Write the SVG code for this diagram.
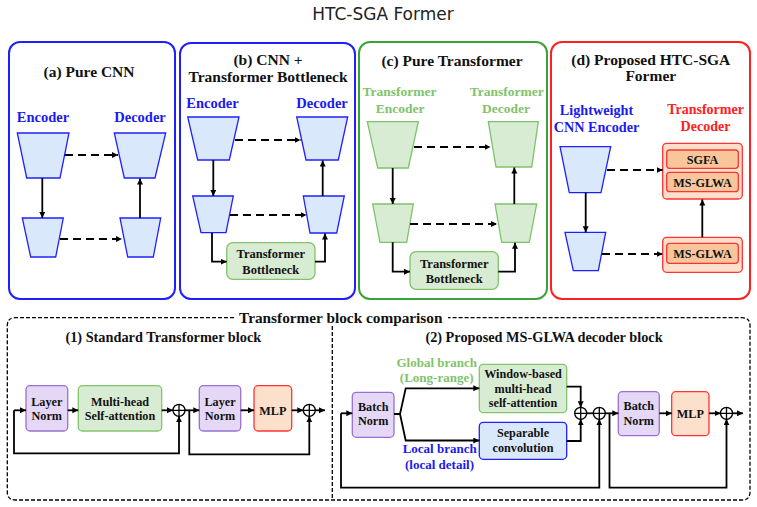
<svg xmlns="http://www.w3.org/2000/svg" width="757" height="507" viewBox="0 0 757 507">
<defs>
<marker id="ah" markerUnits="userSpaceOnUse" markerWidth="7" markerHeight="7" refX="6" refY="3" orient="auto">
<path d="M0,0 L6,3 L0,6 z" fill="#000"/>
</marker>
<style>
.t{font-family:"Liberation Serif","Times New Roman",serif;font-weight:bold;text-anchor:middle;fill:#111}
.pt{font-size:15.5px}
.lb{font-size:14.5px}
.bx{font-size:12.2px}
.blue{fill:#1a1aee}
.green{fill:#7fc36b}
.red{fill:#ff2020}
.panel{fill:#fff;stroke-width:2}
.tb{fill:#dae8fc;stroke:#2020ff;stroke-width:1.3}
.tg{fill:#d8ecd3;stroke:#7cc46a;stroke-width:1.3}
.gbox{fill:#d8ecd3;stroke:#82c46c;stroke-width:1.3}
.bbox{fill:#dae8fc;stroke:#2020ff;stroke-width:1.3}
.pbox{fill:#e4d8f6;stroke:#9b6fd1;stroke-width:1.3}
.obox{fill:#fde0cc;stroke:#ff3333;stroke-width:1.3}
.oin{fill:#f9c69c;stroke:#ff3333;stroke-width:1.3}
.c{fill:none;stroke:#000;stroke-width:1.8}
.ca{fill:none;stroke:#000;stroke-width:1.8;marker-end:url(#ah)}
.d{fill:none;stroke:#000;stroke-width:2;stroke-dasharray:8,5;marker-end:url(#ah)}
.op{fill:#fff;stroke:#000;stroke-width:1.3}
</style>
</defs>
<rect width="757" height="507" fill="#fff"/>
<text x="383" y="20" font-family="DejaVu Sans, sans-serif" font-size="17" text-anchor="middle" fill="#222">HTC-SGA Former</text>

<g id="panel-a">
<rect class="panel" x="9" y="42" width="166" height="257" rx="11" stroke="#2020ff"/>
<text class="t pt" x="89" y="77">(a) Pure CNN</text>
<text class="t lb blue" x="43" y="122">Encoder</text>
<text class="t lb blue" x="140" y="122">Decoder</text>
<polygon class="tb" points="17.3,133 69,133 60,178 26.7,178"/>
<polygon class="tb" points="114.3,133 165.7,133 155,178 124.3,178"/>
<polygon class="tb" points="22.3,218 63.3,218 55.7,257 30.7,257"/>
<polygon class="tb" points="120,218 160.7,218 153.3,257 127.7,257"/>
</g>

<g id="panel-b">
<rect class="panel" x="180" y="43" width="175" height="256" rx="11" stroke="#2020ff"/>
<text class="t pt" x="268" y="65">(b) CNN +</text>
<text class="t pt" x="268" y="82">Transformer Bottleneck</text>
<text class="t lb blue" x="212.5" y="108">Encoder</text>
<text class="t lb blue" x="322" y="108">Decoder</text>
<polygon class="tb" points="187.7,117 239,117 229.3,160 197.7,160"/>
<polygon class="tb" points="296.7,117 347.7,117 338.3,160 306,160"/>
<polygon class="tb" points="192.7,196 233.3,196 226,232.7 201,232.7"/>
<polygon class="tb" points="303.3,196 344.3,196 336.7,233 310,233"/>
<g id="bottleneck-b">
<rect class="gbox" x="226.7" y="242.7" width="88.3" height="36.6" rx="6"/>
<text class="t" font-size="12.5" x="270.8" y="258">Transformer</text>
<text class="t" font-size="12.5" x="270.8" y="273.5">Bottleneck</text>
</g>
</g>

<g id="panel-c">
<rect class="panel" x="359" y="42" width="188" height="257" rx="11" stroke="#3aa23a"/>
<text class="t pt" x="452" y="66">(c) Pure Transformer</text>
<text class="t green" font-size="13.5" x="399.5" y="96">Transformer</text>
<text class="t green" font-size="13.5" x="400" y="112.5">Encoder</text>
<text class="t green" font-size="13.5" x="506.7" y="96">Transformer</text>
<text class="t green" font-size="13.5" x="506" y="112.5">Decoder</text>
<polygon class="tg" points="367.3,121.7 418.3,121.7 408.3,168 377.7,168"/>
<polygon class="tg" points="488.3,121.7 538.3,121.7 531.7,167 496,167"/>
<polygon class="tg" points="372.7,204 413.3,204 406.7,242.3 380,242.3"/>
<polygon class="tg" points="495,204 536.7,204 529.3,242.3 501.7,242.3"/>
<g id="bottleneck-c">
<rect class="gbox" x="410" y="251.7" width="88.3" height="37.6" rx="6"/>
<text class="t" font-size="12.5" x="454.2" y="267.5">Transformer</text>
<text class="t" font-size="12.5" x="454.2" y="283">Bottleneck</text>
</g>
</g>

<g id="panel-d">
<rect class="panel" x="551" y="42" width="199" height="257" rx="11" stroke="#ff2020"/>
<text class="t pt" x="650.8" y="65">(d) Proposed HTC-SGA</text>
<text class="t pt" x="650.8" y="81">Former</text>
<text class="t blue" font-size="14.2" x="596.5" y="115">Lightweight</text>
<text class="t blue" font-size="14.2" x="596.5" y="132">CNN Encoder</text>
<text class="t red" font-size="14" x="705.5" y="114">Transformer</text>
<text class="t red" font-size="14" x="705.5" y="131">Decoder</text>
<polygon class="tb" points="560,146.7 610.7,146.7 601,192.7 569.3,192.7"/>
<polygon class="tb" points="565,232.3 605.7,232.3 598.3,270.7 573.3,270.7"/>
<g id="decoder-top">
<rect class="obox" x="662.7" y="143.3" width="79.6" height="55.7" rx="4"/>
<rect class="oin" x="666.7" y="150" width="71.6" height="18.3" rx="3"/>
<text class="t bx" x="702.5" y="163.5">SGFA</text>
<rect class="oin" x="666.7" y="172.3" width="71.6" height="19.4" rx="3"/>
<text class="t bx" x="702.5" y="186.5">MS-GLWA</text>
</g>
<g id="decoder-bottom">
<rect class="obox" x="662.7" y="237.3" width="79.6" height="35" rx="4"/>
<rect class="oin" x="666.7" y="243.3" width="71.6" height="20" rx="3"/>
<text class="t bx" x="702.5" y="257.8">MS-GLWA</text>
</g>
</g>

<g id="comparison">
<path d="M234,317.7 H15.3 Q7.3,317.7 7.3,325.7 V492 Q7.3,500 15.3,500 H742 Q750,500 750,492 V325.7 Q750,317.7 742,317.7 H448" fill="none" stroke="#000" stroke-width="1.3" stroke-dasharray="4,2"/>
<path d="M332.3,326 V500" fill="none" stroke="#000" stroke-width="1.3" stroke-dasharray="4,2"/>
<text class="t" font-size="15.3" x="340.8" y="322.5">Transformer block comparison</text>
<text class="t" font-size="14.3" x="163.3" y="342.3">(1) Standard Transformer block</text>
<text class="t" font-size="14.3" x="544" y="342.3">(2) Proposed MS-GLWA decoder block</text>
</g>

<g id="ln1"><rect class="pbox" x="26" y="385.7" width="41.7" height="45.3" rx="4"/>
<text class="t bx" x="46.8" y="405.5">Layer</text><text class="t bx" x="46.8" y="419.5">Norm</text></g>
<g id="mhsa"><rect class="gbox" x="78.3" y="385.7" width="83.4" height="45.3" rx="4"/>
<text class="t bx" x="120" y="405.5">Multi-head</text><text class="t bx" x="120" y="419.5">Self-attention</text></g>
<g id="ln2"><rect class="pbox" x="199.3" y="385.7" width="41.4" height="45.3" rx="4"/>
<text class="t bx" x="220" y="405.5">Layer</text><text class="t bx" x="220" y="419.5">Norm</text></g>
<g id="mlp1"><rect class="obox" x="254" y="385.7" width="37.7" height="45.3" rx="4"/>
<text class="t bx" x="272.8" y="414.5">MLP</text></g>
<g id="add1"><circle class="op" cx="179" cy="410.3" r="6"/><path d="M173,410.3 H185 M179,404.3 V416.3" stroke="#000" stroke-width="1.3"/></g>
<g id="add2"><circle class="op" cx="309.3" cy="410.3" r="6"/><path d="M303.3,410.3 H315.3 M309.3,404.3 V416.3" stroke="#000" stroke-width="1.3"/></g>

<g id="bn1"><rect class="pbox" x="352.3" y="392.3" width="41.7" height="45" rx="4"/>
<text class="t bx" x="373.2" y="410.5">Batch</text><text class="t bx" x="373.2" y="425">Norm</text></g>
<g id="wmsa"><rect class="gbox" x="479.3" y="364.3" width="87.4" height="48.4" rx="4"/>
<text class="t bx" x="523" y="378">Window-based</text><text class="t bx" x="523" y="392.5">multi-head</text><text class="t bx" x="523" y="407">self-attention</text></g>
<g id="sepconv"><rect class="bbox" x="479.3" y="422.3" width="87.4" height="37" rx="4"/>
<text class="t bx" x="523" y="436.7">Separable</text><text class="t bx" x="523" y="451.7">convolution</text></g>
<g id="branch-labels">
<text class="t green" font-size="13" x="436.7" y="366.7">Global branch</text>
<text class="t green" font-size="13" x="436.7" y="382.3">(Long-range)</text>
<text class="t blue" font-size="13" x="439.7" y="453.3">Local branch</text>
<text class="t blue" font-size="13" x="439.5" y="469.3">(local detail)</text>
</g>
<g id="bn2"><rect class="pbox" x="618.3" y="391.7" width="41" height="44" rx="4"/>
<text class="t bx" x="638.8" y="410">Batch</text><text class="t bx" x="638.8" y="424.5">Norm</text></g>
<g id="mlp2"><rect class="obox" x="671.7" y="391.7" width="37.3" height="44" rx="4"/>
<text class="t bx" x="690.3" y="417.5">MLP</text></g>
<g id="addA"><circle class="op" cx="580.7" cy="413.3" r="6"/><path d="M574.7,413.3 H586.7 M580.7,407.3 V419.3" stroke="#000" stroke-width="1.3"/></g>
<g id="addB"><circle class="op" cx="599.3" cy="413.3" r="6"/><path d="M593.3,413.3 H605.3 M599.3,407.3 V419.3" stroke="#000" stroke-width="1.3"/></g>
<g id="addC"><circle class="op" cx="726.5" cy="413.3" r="6"/><path d="M720.5,413.3 H732.5 M726.5,407.3 V419.3" stroke="#000" stroke-width="1.3"/></g>

<g id="connectors">
<path class="ca" d="M42.3,178 V218"/>
<path class="d" d="M65,155 H118"/>
<path class="d" d="M60,239 H122"/>
<path class="ca" d="M140,218 V178.5"/>
<path class="ca" d="M213.3,160 V196"/>
<path class="d" d="M235,140 H300.5"/>
<path class="d" d="M230,215 H306.5"/>
<path class="ca" d="M322.7,196 V160.5"/>
<path class="ca" d="M212,233 V261.7 H226.7"/>
<path class="ca" d="M315,261.7 H325 V233.5"/>
<path class="ca" d="M392.7,168 V204"/>
<path class="d" d="M414,147 H490.5"/>
<path class="d" d="M410,224 H497"/>
<path class="ca" d="M514.3,204 V167.5"/>
<path class="ca" d="M392.7,242.3 V271.7 H410"/>
<path class="ca" d="M498.3,271.7 H515 V242.8"/>
<path class="ca" d="M585.7,192.7 V232.3"/>
<path class="d" d="M607,170 H662.7"/>
<path class="d" d="M602,254 H662.7"/>
<path class="ca" d="M702.3,237.3 V199.5"/>
<path class="ca" d="M14,410.3 H26"/>
<path class="ca" d="M14,410.3 V453.3 H179 V416.3"/>
<path class="ca" d="M67.7,410.3 H78.3"/>
<path class="ca" d="M161.7,410.3 H173"/>
<path class="ca" d="M185,410.3 H199.3"/>
<path class="ca" d="M189.3,410.3 V454.3 H309.3 V416.3"/>
<path class="ca" d="M240.7,410.3 H254"/>
<path class="ca" d="M291.7,410.3 H303.3"/>
<path class="ca" d="M315.3,410.3 H325"/>
<path class="ca" d="M394,414 H400 L405.7,388.3 H479.3"/>
<path class="ca" d="M400,414 L405.7,440.5 H479.3"/>
<path class="ca" d="M566.7,386.7 H580.7 V407.3"/>
<path class="ca" d="M566.7,441 H580.7 V419.3"/>
<path class="c" d="M586.7,413.3 H593.3"/>
<path class="ca" d="M341,413.3 H352.3"/>
<path class="ca" d="M341,413.3 V487.7 H599.3 V419.3"/>
<path class="ca" d="M605.3,413.3 H618.3"/>
<path class="ca" d="M609.5,413.3 V487.7 H726.5 V419.3"/>
<path class="ca" d="M659.3,413.3 H671.7"/>
<path class="ca" d="M709,413.3 H720.5"/>
<path class="ca" d="M732.5,413.3 H743"/>
</g>
</svg>
